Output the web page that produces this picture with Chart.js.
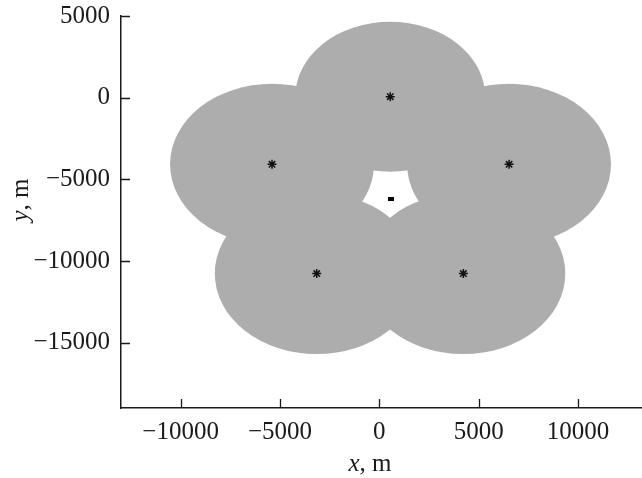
<!DOCTYPE html>
<html>
<head>
<meta charset="utf-8">
<script src="https://cdn.jsdelivr.net/npm/chart.js@4/dist/chart.umd.min.js"></script>
<style>
  html, body { margin: 0; padding: 0; background: #ffffff; }
  #wrap { width: 642px; height: 478px; position: relative; }
</style>
</head>
<body>
<div id="wrap"><canvas id="c" width="642" height="478"></canvas></div>
<script>
// ---- data ----
const stationX = [550, -5400, 6530, -3150, 4230];
const stationY = [60, -4080, -4080, -10770, -10770];
const coverRadiusX = [4780, 5130, 5130, 5130, 5130];
const coverRadiusY = [4590, 4930, 4930, 4930, 4930];
const targetX = [600];
const targetY = [-6180];
const xTicks = [-10000, -5000, 0, 5000, 10000];
const yTicks = [5000, 0, -5000, -10000, -15000];

const SERIF = '"Liberation Serif", "DejaVu Serif", serif';
const FS = 25;
const fmt = v => (v < 0 ? '\u2212' + Math.abs(v) : String(v));

const rectMarker = document.createElement('canvas');
rectMarker.width = 6; rectMarker.height = 4;
(function () { const g = rectMarker.getContext('2d'); g.fillStyle = '#000'; g.fillRect(0, 0, 6, 4); })();

const discPlugin = {
  id: 'discs',
  beforeDatasetsDraw(chart) {
    const { ctx, chartArea: a, scales: { x, y } } = chart;
    ctx.save();
    ctx.beginPath();
    ctx.rect(a.left, a.top, a.right - a.left, a.bottom - a.top);
    ctx.clip();
    ctx.fillStyle = '#adadad';
    for (let i = 0; i < stationX.length; i++) {
      const cx = x.getPixelForValue(stationX[i]);
      const cy = y.getPixelForValue(stationY[i]);
      const rx = Math.abs(x.getPixelForValue(stationX[i] + coverRadiusX[i]) - cx);
      const ry = Math.abs(y.getPixelForValue(stationY[i] + coverRadiusY[i]) - cy);
      ctx.beginPath();
      ctx.ellipse(cx, cy, rx, ry, 0, 0, Math.PI * 2);
      ctx.fill();
    }
    ctx.restore();
  },
  afterDraw(chart) {
    const { ctx, chartArea: a, scales: { x, y } } = chart;
    ctx.save();
    ctx.strokeStyle = '#1a1a1a';
    ctx.lineWidth = 1.3;
    const L = 9;
    ctx.beginPath();
    xTicks.forEach(v => { const px = Math.round(x.getPixelForValue(v)) + 0.5; ctx.moveTo(px, a.bottom); ctx.lineTo(px, a.bottom - L); });
    yTicks.forEach(v => { const py = Math.round(y.getPixelForValue(v)) + 0.5; ctx.moveTo(a.left, py); ctx.lineTo(a.left + L, py); });
    ctx.stroke();
    ctx.fillStyle = '#1a1a1a';
    ctx.textBaseline = 'alphabetic';
    const drawTitle = (cx, cyBase, v) => {
      ctx.font = 'italic ' + FS + 'px ' + SERIF;
      const w1 = ctx.measureText(v).width;
      ctx.font = FS + 'px ' + SERIF;
      const w2 = ctx.measureText(', m').width;
      const start = cx - (w1 + w2) / 2;
      ctx.font = 'italic ' + FS + 'px ' + SERIF;
      ctx.textAlign = 'left';
      ctx.fillText(v, start, cyBase);
      ctx.font = FS + 'px ' + SERIF;
      ctx.fillText(', m', start + w1, cyBase);
    };
    drawTitle(370, 471, 'x');
    ctx.save();
    ctx.translate(28, 200);
    ctx.rotate(-Math.PI / 2);
    drawTitle(0, 0, 'y');
    ctx.restore();
    ctx.restore();
  }
};

new Chart(document.getElementById('c'), {
  type: 'scatter',
  data: {
    datasets: [
      {
        label: 'stations',
        data: stationX.map((v, i) => ({ x: v, y: stationY[i] })),
        pointStyle: 'star',
        radius: 4.5,
        borderColor: '#111',
        backgroundColor: '#111',
        borderWidth: 1.5
      },
      {
        label: 'target',
        data: targetX.map((v, i) => ({ x: v, y: targetY[i] })),
        pointStyle: rectMarker,
        radius: 3
      }
    ]
  },
  plugins: [discPlugin],
  options: {
    responsive: false,
    animation: false,
    events: [],
    layout: { autoPadding: false, padding: { top: 16, right: 0, left: 0, bottom: 0 } },
    plugins: { legend: { display: false }, tooltip: { enabled: false } },
    scales: {
      x: {
        type: 'linear',
        min: -13000,
        max: 13220,
        afterBuildTicks: ax => { ax.ticks = xTicks.map(v => ({ value: v })); },
        afterFit: ax => { ax.height = 70; ax.paddingLeft = 0; ax.paddingRight = 0; },
        grid: { display: false, drawTicks: false },
        border: { display: true, color: '#1a1a1a', width: 1.5 },
        ticks: { color: '#1a1a1a', font: { family: SERIF, size: FS }, padding: 9, maxRotation: 0, callback: fmt }
      },
      y: {
        type: 'linear',
        min: -19000,
        max: 5000,
        afterBuildTicks: ax => { ax.ticks = yTicks.map(v => ({ value: v })); },
        afterFit: ax => { ax.width = 121; ax.paddingTop = 0; ax.paddingBottom = 0; },
        grid: { display: false, drawTicks: false },
        border: { display: true, color: '#1a1a1a', width: 1.5 },
        ticks: { color: '#1a1a1a', font: { family: SERIF, size: FS }, padding: 11, callback: fmt }
      }
    }
  }
});
</script>
</body>
</html>
